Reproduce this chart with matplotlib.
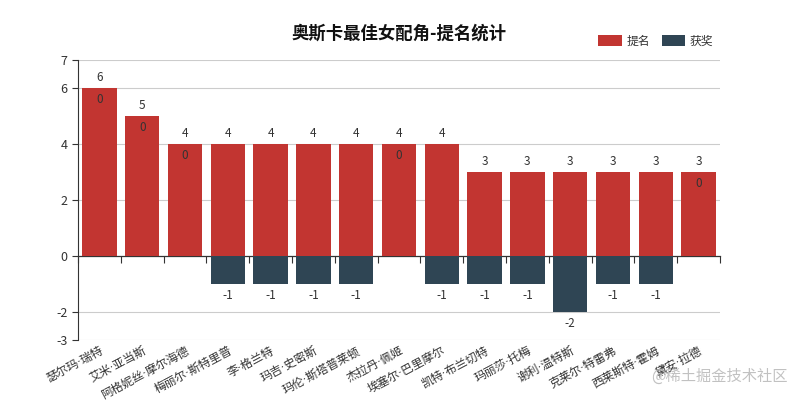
import matplotlib
matplotlib.use("Agg")
import matplotlib.pyplot as plt
from matplotlib.transforms import offset_copy
import numpy as np

plt.rcParams['font.family'] = ['Noto Sans CJK SC', 'DejaVu Sans']

names = ["瑟尔玛·瑞特", "艾米·亚当斯", "阿格妮丝·摩尔海德", "梅丽尔·斯特里普", "李·格兰特",
         "玛吉·史密斯", "玛伦·斯塔普莱顿", "杰拉丹·佩姬", "埃塞尔·巴里摩尔", "凯特·布兰切特",
         "玛丽莎·托梅", "谢利·温特斯", "克莱尔·特雷弗", "西莱斯特·霍姆", "黛安·拉德"]
nominations = [6, 5, 4, 4, 4, 4, 4, 4, 4, 3, 3, 3, 3, 3, 3]
wins = [0, 0, 0, -1, -1, -1, -1, 0, -1, -1, -1, -2, -1, -1, 0]
yticks = [-3, -2, 0, 2, 4, 6, 7]
series_names = ["提名", "获奖"]

red = "#c23531"
dark = "#2f4554"
axis_c = "#333333"
grid_c = "#cccccc"

fig = plt.figure(figsize=(8, 4), dpi=100)
ax = fig.add_axes([0.0975, 0.15, 0.8025, 0.70])
x = np.arange(len(names))
ymin, ymax = yticks[0], yticks[-1]

b1 = ax.bar(x, nominations, width=0.8, color=red, label=series_names[0], zorder=3)
b2 = ax.bar(x, wins, width=0.8, color=dark, label=series_names[1], zorder=3)

ax.set_xlim(-0.5, len(names) - 0.5)
ax.set_ylim(ymin, ymax)
ax.set_yticks(yticks)
ax.set_yticklabels([str(t) for t in yticks])
for t in yticks:
    if t != 0:
        ax.axhline(t, color=grid_c, lw=0.8, zorder=1)

for s in ["top", "right", "bottom"]:
    ax.spines[s].set_visible(False)
ax.spines["left"].set_color(axis_c)
ax.tick_params(axis="y", colors=axis_c, labelsize=9, length=4, width=0.8)

ax.set_xticks(x)
ax.set_xticklabels(names, rotation=28, ha="right", rotation_mode="anchor", fontsize=8.5, color=axis_c,
                   family=['DejaVu Sans', 'Noto Sans CJK SC'])
ax.tick_params(axis="x", length=0, pad=3)

# zero axis with boundary ticks
zero_frac = (0 - ymin) / (ymax - ymin)
sax = ax.secondary_xaxis(zero_frac)
sax.set_xticks(np.arange(len(names) + 1) - 0.5)
sax.set_xticklabels([])
sax.tick_params(length=5, color=axis_c, width=0.8)
sax.spines["bottom"].set_color(axis_c)
sax.spines["bottom"].set_linewidth(0.9)

# value labels
above = offset_copy(ax.transData, fig=fig, y=4, units="dots")
below = offset_copy(ax.transData, fig=fig, y=-5, units="dots")
for xi, n, w in zip(x, nominations, wins):
    ax.text(xi, n, str(n), transform=above, ha="center", va="bottom", fontsize=8.5, color=axis_c, zorder=5)
    if w == 0:
        ax.text(xi, n, str(w), transform=below, ha="center", va="top", fontsize=8.5, color=axis_c, zorder=5)
    else:
        ax.text(xi, w, str(w), transform=below, ha="center", va="top", fontsize=8.5, color=axis_c, zorder=5)

fig.text(0.4985, 0.915, "奥斯卡最佳女配角-提名统计", ha="center", va="center", fontsize=12.5, fontweight="bold", color="#111111")

fig.legend(handles=[b1, b2], labels=series_names, loc="center right", bbox_to_anchor=(0.905, 0.897),
           ncol=2, frameon=False, fontsize=8.5, handlelength=2.0, handleheight=1.1, handletextpad=0.4,
           columnspacing=1.0, labelcolor=axis_c)

fig.text(0.985, 0.06, "@稀土掘金技术社区", ha="right", va="center", fontsize=11, color="#bbbbbb", alpha=0.9)

fig.savefig("out.png", dpi=100)
